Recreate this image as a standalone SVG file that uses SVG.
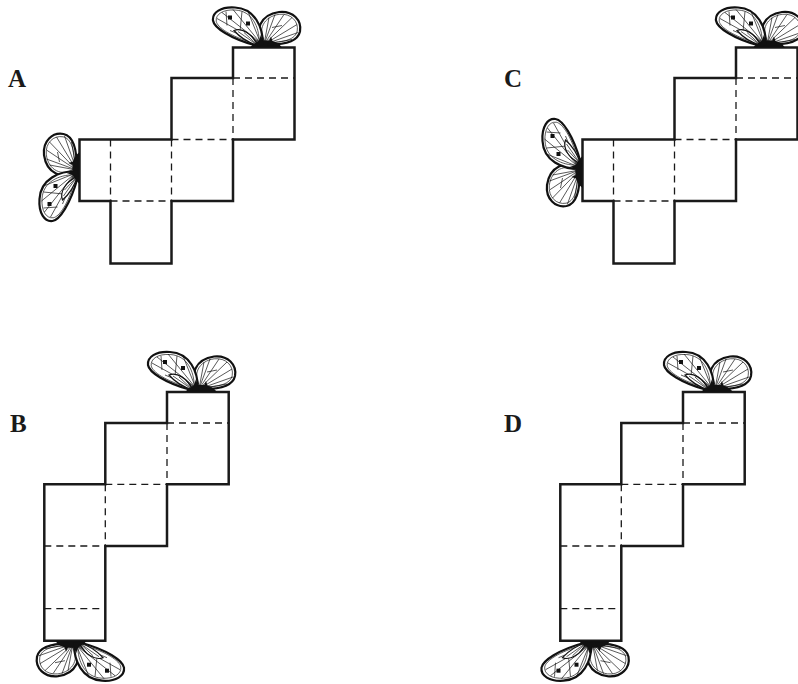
<svg xmlns="http://www.w3.org/2000/svg" xmlns:xlink="http://www.w3.org/1999/xlink" width="798" height="684" viewBox="0 0 798 684">
<style>
.out{fill:none;stroke:#1a1a1a;stroke-width:2.5;stroke-linejoin:miter}
.dash{fill:none;stroke:#1a1a1a;stroke-width:1.3;stroke-dasharray:7,5}
.lbl{font-family:"Liberation Serif","Times New Roman",serif;font-weight:bold;font-size:25px;fill:#1a1a1a}
.w1{fill:#fff;stroke:#111;stroke-width:2.2}
.w2{fill:none;stroke:#111;stroke-width:0.8}
.v{fill:none;stroke:#111;stroke-width:0.7}
</style>
<defs>
<path id="hw" d="M3,-3 C-7,-17 1,-33 19,-35.5 C33,-37 42,-27 40,-16 C38,-7 26,-2 3,-3 Z"/>
<path id="fw" d="M3,-3 C3,-20 -5,-39 -25,-40 C-39,-41 -48,-35 -47,-27 C-46,-20 -30,-9 -4,-2 Z"/>
<path id="iw" d="M-2,-2 C-8,-14 -18,-20 -26,-17 C-20,-10 -12,-5 -2,-2 Z"/>
<g id="bf">
  <use href="#hw" xlink:href="#hw" class="w1"/>
  <use href="#hw" xlink:href="#hw" class="w2" transform="translate(20,-19) scale(0.86) translate(-20,19)"/>
  <path class="v" d="M4,-3 L9,-30 M4,-3 L15,-33 M4,-3 L24,-33 M4,-3 L32,-30 M4,-3 L37,-23 M4,-3 L38,-15 M4,-3 L32,-8 M12,-20 L22,-22"/>
  <use href="#fw" xlink:href="#fw" class="w1"/>
  <use href="#fw" xlink:href="#fw" class="w2" transform="translate(-24,-22) scale(0.86) translate(24,22)"/>
  <path class="v" d="M0,-5 L-43,-29 M0,-5 L-38,-35 M0,-5 L-27,-38 M0,-6 L-12,-36 M-1,-5 L-30,-17 M-20,-16 L-18,-36 M-33,-22 L-34,-36"/>
  <rect x="-32" y="-32" width="4" height="4" fill="#111"/>
  <rect x="-14" y="-26" width="4" height="4" fill="#111"/>
  <use href="#iw" xlink:href="#iw" class="w1" style="stroke-width:1.2"/>
  <path class="v" d="M-2,-2 L-22,-16 M-2,-2 L-16,-15 M-2,-2 L-9,-12"/>
  <path d="M-10,0 Q-3,-8 6,-7 Q16,-8 22,0 Z" fill="#111"/>
  <path d="M-3,-1 L1,-13 L4,-2 Z M7,-2 L11,-11 L14,-2 Z" fill="#111"/>
</g>
</defs>

<g id="label-A"><text class="lbl" x="8" y="87">A</text></g>
<g id="label-C"><text class="lbl" x="504" y="87">C</text></g>
<g id="label-B"><text class="lbl" x="10" y="432">B</text></g>
<g id="label-D"><text class="lbl" x="504" y="432">D</text></g>

<g id="net-A">
  <path class="out" d="M233,47.5 H294.5 V139.5 H233 V201 H171.5 V263.5 H110.5 V201 H79.5 V139.5 H171.5 V78 H233 Z"/>
  <path class="dash" d="M233,78 H294.5 M233,78 V139.5 M171.5,139.5 H233 M171.5,139.5 V201 M110.5,139.5 V201 M110.5,201 H171.5"/>
  <use xlink:href="#bf" href="#bf" transform="translate(260,47.5)"/>
  <use xlink:href="#bf" href="#bf" transform="translate(79.5,174) rotate(-90)"/>
</g>

<g id="net-C" transform="translate(503,0)">
  <path class="out" d="M233,47.5 H294.5 V139.5 H233 V201 H171.5 V263.5 H110.5 V201 H79.5 V139.5 H171.5 V78 H233 Z"/>
  <path class="dash" d="M233,78 H294.5 M233,78 V139.5 M171.5,139.5 H233 M171.5,139.5 V201 M110.5,139.5 V201 M110.5,201 H171.5"/>
  <use xlink:href="#bf" href="#bf" transform="translate(260,47.5)"/>
  <use xlink:href="#bf" href="#bf" transform="matrix(0,1,1,0,79.5,166)"/>
</g>

<g id="net-B">
  <path class="out" d="M167,392 H228.7 V484.3 H167 V546 H105.3 V640.7 H44.3 V484.3 H105.3 V423 H167 Z"/>
  <path class="dash" d="M167,423 H228.7 M167,423 V484.3 M105.3,484.3 H167 M105.3,484.3 V546 M44.3,546 H105.3 M44.3,608.7 H102"/>
  <use xlink:href="#bf" href="#bf" transform="translate(195,392)"/>
  <use xlink:href="#bf" href="#bf" transform="translate(77,640.7) rotate(180)"/>
</g>

<g id="net-D" transform="translate(516,0)">
  <path class="out" d="M167,392 H228.7 V484.3 H167 V546 H105.3 V640.7 H44.3 V484.3 H105.3 V423 H167 Z"/>
  <path class="dash" d="M167,423 H228.7 M167,423 V484.3 M105.3,484.3 H167 M105.3,484.3 V546 M44.3,546 H105.3 M44.3,608.7 H102"/>
  <use xlink:href="#bf" href="#bf" transform="translate(195,392)"/>
  <use xlink:href="#bf" href="#bf" transform="translate(72.5,640.7) scale(1,-1)"/>
</g>

<g id="connectors"/>
</svg>
